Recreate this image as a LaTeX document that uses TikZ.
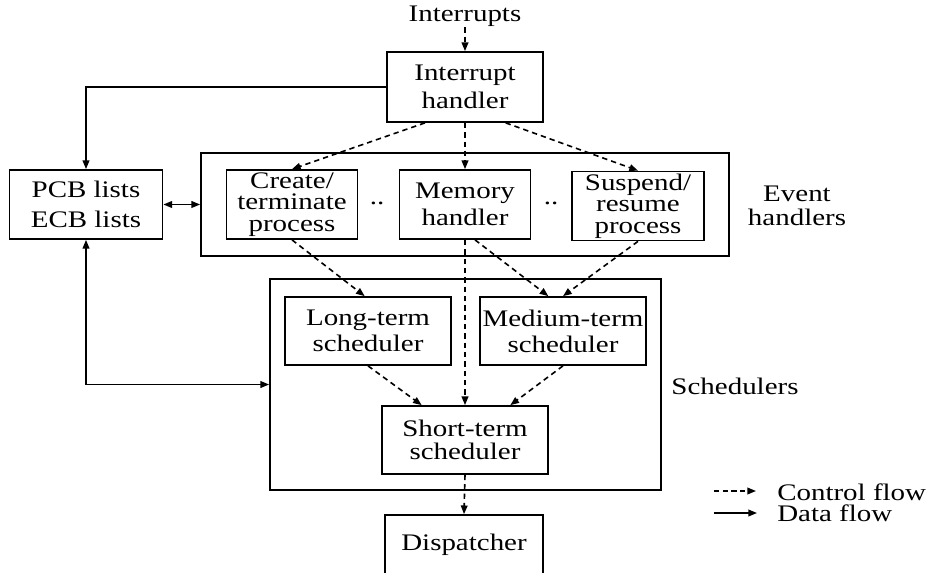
\documentclass[tikz,border=0pt]{standalone}
\usepackage{fontspec}
\setmainfont{Liberation Serif}[FakeStretch=1.22]
\usetikzlibrary{arrows.meta,calc}

\begin{document}
\begin{tikzpicture}[x=0.75pt,y=-0.75pt,
  every node/.style={font=\fontsize{17.8pt}{21pt}\selectfont},
  blk/.style={draw,line width=1.3pt,inner sep=0pt,align=center},
  frame/.style={draw,line width=1.3pt,inner sep=0pt},
  lbl/.style={inner sep=0pt,align=center},
  ctl/.style={line width=1.2pt,dash pattern=on 4pt off 3pt,-{Triangle[length=6.5pt,width=5pt]}},
  dat/.style={line width=1.2pt,-{Triangle[length=6.5pt,width=5pt]}},
  datboth/.style={line width=1.2pt,{Triangle[length=6.5pt,width=5pt]}-{Triangle[length=6.5pt,width=5pt]}}]

\useasboundingbox (0,0) rectangle (930,573);
\fill[white] (0,0) rectangle (930,573);
\clip (0,0) rectangle (930,573);

% interrupt entry
\node[lbl,anchor=base] (irq) at (465,22) {Interrupts};
\node[blk,minimum width=117pt,minimum height=52.5pt] (ih) at (465,87) {Interrupt\\handler};

% process and event control block lists
\node[blk,minimum width=114.75pt,minimum height=51.75pt,font=\fontsize{17.8pt}{22pt}\selectfont] (pcb) at (86,204.5) {PCB lists\\ECB lists};

% event handlers group
\node[frame,minimum width=396pt,minimum height=77.25pt] (ev) at (465,204.5) {};
\node[blk,minimum width=98.25pt,minimum height=51.75pt,font=\fontsize{17.8pt}{16pt}\selectfont] (create) at (292,204.5) {Create/\\terminate\\process};
\node[blk,minimum width=98.25pt,minimum height=51.75pt,font=\fontsize{17.8pt}{20.5pt}\selectfont] (mem) at (465,204.5) {Memory\\handler};
\node[blk,minimum width=99pt,minimum height=51.75pt,font=\fontsize{17.8pt}{16pt}\selectfont] (susp) at (638,206) {Suspend/\\resume\\process};
\node[lbl] (dotsa) at (377,203) {..};
\node[lbl] (dotsb) at (551,203) {..};
\node[lbl,font=\fontsize{17.8pt}{18pt}\selectfont] (evlbl) at (797,206) {Event\\handlers};

% schedulers group
\node[frame,minimum width=293.25pt,minimum height=158.25pt] (sch) at (465.5,384.5) {};
\node[blk,minimum width=124.5pt,minimum height=51pt,font=\fontsize{17.8pt}{19.5pt}\selectfont] (long) at (368,331) {Long-term\\scheduler};
\node[blk,minimum width=124.5pt,minimum height=51pt,font=\fontsize{17.8pt}{19.5pt}\selectfont] (med) at (563,331) {Medium-term\\scheduler};
\node[blk,minimum width=124.5pt,minimum height=51pt,font=\fontsize{17.8pt}{17pt}\selectfont] (short) at (465,440) {Short-term\\scheduler};
\node[lbl,anchor=base] (schlbl) at (735,394) {Schedulers};

% dispatcher
\node[blk,minimum width=118.5pt,minimum height=44.25pt] (disp) at (464,544.5) {Dispatcher};

% control flow
\draw[ctl] (irq.south) -- (ih.north);
\draw[ctl] ([xshift=-30pt]ih.south) -- (create.north);
\draw[ctl] (ih.south) -- (mem.north);
\draw[ctl] ([xshift=30.5pt]ih.south) -- (susp.north);
\draw[ctl] (create.south) -- ([xshift=-2.5pt]long.north);
\draw[ctl] ([xshift=7.5pt]mem.south) -- ([xshift=-11pt]med.north);
\draw[ctl] (susp.south) -- (med.north);
\draw[ctl] (mem.south) -- (short.north);
\draw[ctl] (long.south) -- ([xshift=-32.5pt]short.north);
\draw[ctl] (med.south) -- ([xshift=34pt]short.north);
\draw[ctl] (short.south) -- (disp.north);

% data flow
\draw[dat] (ih.west) -| (pcb.north);
\draw[datboth] (pcb.east) -- (ev.west);
\draw[datboth] (pcb.south) |- (sch.west);

% legend
\coordinate (lc1) at (714,491);
\coordinate (lc2) at (756,491);
\coordinate (ld1) at (714,513);
\coordinate (ld2) at (757,513);
\draw[ctl,dash pattern=on 4pt off 2.5pt] (lc1) -- (lc2);
\draw[dat] (ld1) -- (ld2);
\node[lbl,anchor=base west] (lgc) at (777,500) {Control flow};
\node[lbl,anchor=base west] (lgd) at (777,521) {Data flow};
\end{tikzpicture}
\end{document}
